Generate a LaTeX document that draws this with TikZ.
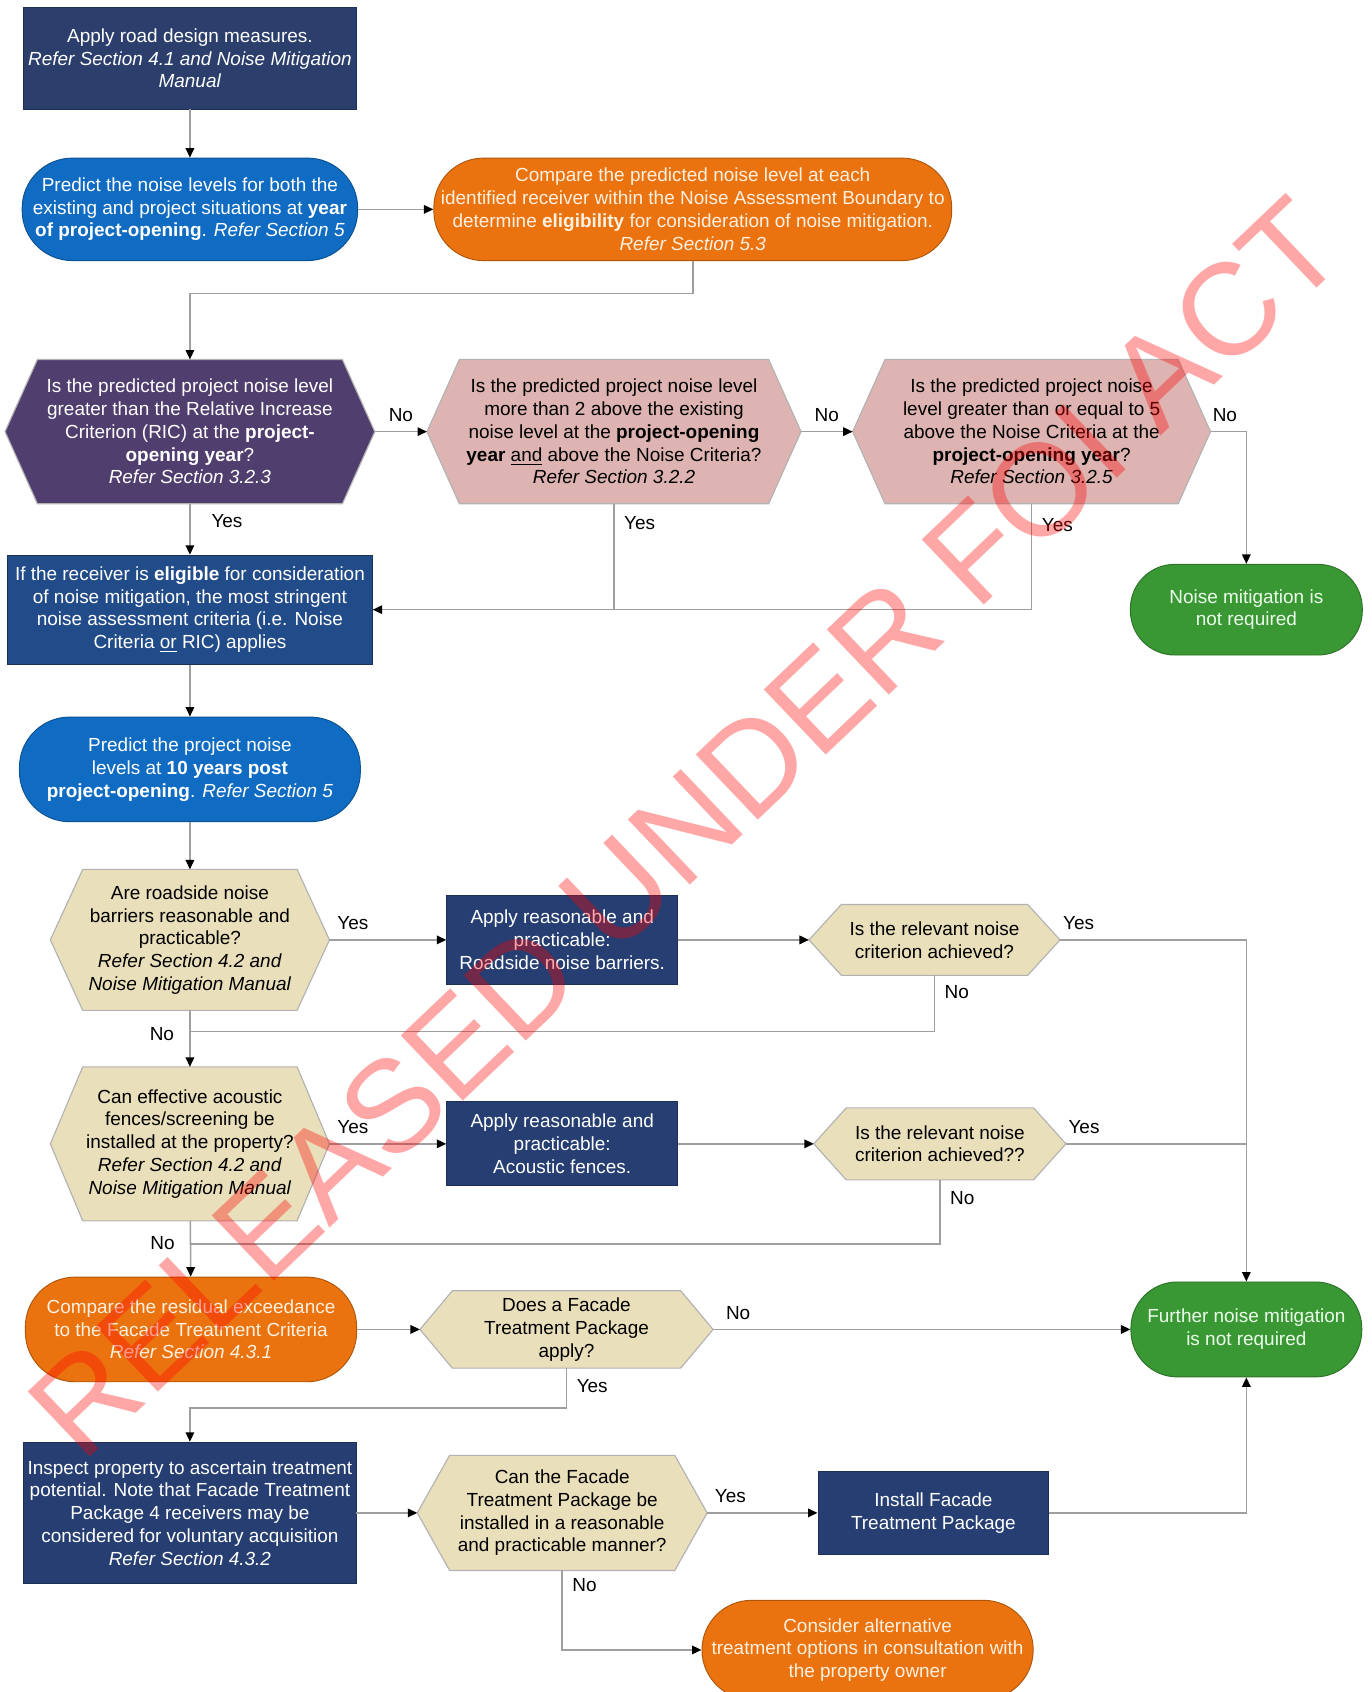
\documentclass[tikz,border=0pt]{standalone}
\usepackage{fontspec}
\setmainfont{Liberation Sans}
\usetikzlibrary{arrows.meta}
\usetikzlibrary{backgrounds}

\definecolor{topnavy}{HTML}{2B3E6C}
\definecolor{midnavy}{HTML}{224B8A}
\definecolor{boxnavy}{HTML}{263E71}
\definecolor{predblue}{HTML}{106CC2}
\definecolor{mitorange}{HTML}{EB730F}
\definecolor{ricpurple}{HTML}{503E6E}
\definecolor{critpink}{HTML}{DDB4B1}
\definecolor{qbeige}{HTML}{E9DFBA}
\definecolor{okgreen}{HTML}{3A9834}

\tikzset{
  txt/.style={align=center, font=\fontsize{10}{12}\selectfont, inner sep=2pt},
  navybox/.style={txt, rectangle, fill=boxnavy, draw=boxnavy!75!black, line width=0.5pt, text=white},
  bluestad/.style={txt, rectangle, rounded corners=0.93cm, fill=predblue, draw=predblue!75!black, line width=0.5pt, text=white},
  orangestad/.style={txt, rectangle, rounded corners=0.92cm, fill=mitorange, draw=mitorange!75!black, line width=0.5pt, text=white!88!orange},
  greenstad/.style={txt, rectangle, rounded corners=0.82cm, fill=okgreen, draw=okgreen!75!black, line width=0.5pt, text=white!92!green},
  hexnode/.style={txt, rectangle},
  hexedge/.style={draw=gray!60, line width=0.6pt},
  link/.style={draw=gray!75, line width=0.8pt},
  flow/.style={link, -{Triangle[length=5pt, width=4.5pt, color=black]}},
  lbl/.style={font=\fontsize{10}{12}\selectfont, inner sep=2pt, text=black},
  stamp/.style={font=\fontsize{69}{69}\selectfont, text=red, text opacity=0.35, inner sep=0pt}
}

\begin{document}
\begin{tikzpicture}[x=0.02cm, y=-0.02cm]
  \useasboundingbox (0, 0) rectangle (1271, 1568);

  \node [navybox, fill=topnavy, minimum width=6.16cm, minimum height=1.88cm] (roaddesign) at (176, 54)
    {Apply road design measures.\\ \textit{Refer Section 4.1 and Noise Mitigation}\\ \textit{Manual}};
  \node [bluestad, minimum width=6.22cm, minimum height=1.9cm] (predopen) at (176, 194)
    {Predict the noise levels for both the\\ existing and project situations at \textbf{year}\\ \textbf{of project-opening}. \textit{Refer Section 5}};
  \node [orangestad, minimum width=9.6cm, minimum height=1.9cm] (eligibility) at (642, 194)
    {Compare the predicted noise level at each\\ identified receiver within the Noise Assessment Boundary to\\ determine \textbf{eligibility} for consideration of noise mitigation.\\ \textit{Refer Section 5.3}};

  \node [hexnode, text=white, minimum width=6.84cm, minimum height=2.66cm] (ric) at (176, 400)
    {Is the predicted project noise level\\ greater than the Relative Increase\\ Criterion (RIC) at the \textbf{project-}\\ \textbf{opening year}?\\ \textit{Refer Section 3.2.3}};
  \node [hexnode, minimum width=6.92cm, minimum height=2.66cm] (twoabove) at (569, 400)
    {Is the predicted project noise level\\ more than 2 above the existing\\ noise level at the \textbf{project-opening}\\ \textbf{year} \underline{and} above the Noise Criteria?\\ \textit{Refer Section 3.2.2}};
  \node [hexnode, minimum width=6.62cm, minimum height=2.66cm] (fiveabove) at (956, 400)
    {Is the predicted project noise\\ level greater than or equal to 5\\ above the Noise Criteria at the\\ \textbf{project-opening year}?\\ \textit{Refer Section 3.2.5}};

  \node [navybox, fill=midnavy, minimum width=6.76cm, minimum height=2.02cm] (stringent) at (176, 565)
    {If the receiver is \textbf{eligible} for consideration\\ of noise mitigation, the most stringent\\ noise assessment criteria (i.e. Noise\\ Criteria \underline{or} RIC) applies};
  \node [greenstad, minimum width=4.3cm, minimum height=1.68cm] (notreq) at (1155, 565)
    {Noise mitigation is\\ not required};

  \node [bluestad, minimum width=6.32cm, minimum height=1.94cm] (predpost) at (176, 713)
    {Predict the project noise\\ levels at \textbf{10 years post}\\ \textbf{project-opening}. \textit{Refer Section 5}};

  \node [hexnode, minimum width=5.16cm, minimum height=2.6cm] (barriers) at (176, 871)
    {Are roadside noise\\ barriers reasonable and\\ practicable?\\ \textit{Refer Section 4.2 and}\\ \textit{Noise Mitigation Manual}};
  \node [navybox, minimum width=4.28cm, minimum height=1.64cm] (applybarriers) at (521, 871)
    {Apply reasonable and\\ practicable:\\ Roadside noise barriers.};
  \node [hexnode, minimum width=4.64cm, minimum height=1.3cm] (relevantA) at (866, 871)
    {Is the relevant noise\\ criterion achieved?};

  \node [hexnode, minimum width=5.16cm, minimum height=2.84cm] (fences) at (176, 1060)
    {Can effective acoustic\\ fences/screening be\\ installed at the property?\\ \textit{Refer Section 4.2 and}\\ \textit{Noise Mitigation Manual}};
  \node [navybox, minimum width=4.28cm, minimum height=1.56cm] (applyfences) at (521, 1060)
    {Apply reasonable and\\ practicable:\\ Acoustic fences.};
  \node [hexnode, minimum width=4.66cm, minimum height=1.32cm] (relevantB) at (871, 1060)
    {Is the relevant noise\\ criterion achieved??};

  \node [orangestad, minimum width=6.14cm, minimum height=1.94cm] (residual) at (177, 1232)
    {Compare the residual exceedance\\ to the Facade Treatment Criteria\\ \textit{Refer Section 4.3.1}};
  \node [hexnode, minimum width=5.42cm, minimum height=1.42cm] (facadeq) at (525, 1232)
    {Does a Facade\\ Treatment Package\\ apply?};
  \node [greenstad, rounded corners=0.86cm, minimum width=4.28cm, minimum height=1.76cm] (further) at (1155, 1232)
    {Further noise mitigation\\ is not required};

  \node [navybox, minimum width=6.14cm, minimum height=2.62cm] (inspect) at (176, 1402)
    {Inspect property to ascertain treatment\\ potential. Note that Facade Treatment\\ Package 4 receivers may be\\ considered for voluntary acquisition\\ \textit{Refer Section 4.3.2}};
  \node [hexnode, minimum width=5.36cm, minimum height=2.12cm] (installq) at (521, 1402)
    {Can the Facade\\ Treatment Package be\\ installed in a reasonable\\ and practicable manner?};
  \node [navybox, minimum width=4.28cm, minimum height=1.54cm] (install) at (865, 1402)
    {Install Facade\\ Treatment Package};
  \node [orangestad, minimum width=6.14cm, minimum height=1.84cm] (alternative) at (804, 1529)
    {Consider alternative\\ treatment options in consultation with\\ the property owner};

  \coordinate (joinA) at (176, 956);
  \coordinate (joinB) at (176, 1153);
  \coordinate (joinC) at (176, 1305);

  \begin{scope}[on background layer]
    \foreach \hexname/\hexfill in {ric/ricpurple, twoabove/critpink, fiveabove/critpink,
        barriers/qbeige, relevantA/qbeige, fences/qbeige, relevantB/qbeige, facadeq/qbeige, installq/qbeige}
      \filldraw [hexedge, fill=\hexfill] (\hexname.west) -- ([xshift=0.6cm] \hexname.north west)
        -- ([xshift=-0.6cm] \hexname.north east) -- (\hexname.east)
        -- ([xshift=-0.6cm] \hexname.south east) -- ([xshift=0.6cm] \hexname.south west) -- cycle;
  \end{scope}

  \draw [flow] (roaddesign) -- (predopen);
  \draw [flow] (predopen) -- (eligibility);
  \draw [flow] (eligibility.south) -- ++(0, 30) -| (ric.north);

  \draw [flow] (ric) -- node [lbl, above=3pt] {No} (twoabove);
  \draw [flow] (twoabove) -- node [lbl, above=3pt] {No} (fiveabove);
  \draw [flow] (fiveabove.east) -| node [lbl, pos=0.2, above=3pt] {No} (notreq.north);

  \draw [flow] (ric.south) -- node [lbl, pos=0.33, right=9pt] {Yes} (stringent.north);
  \draw [flow] (twoabove.south) |- node [lbl, pos=0.09, right=3pt] {Yes} (stringent.east);
  \draw [link] (fiveabove.south) |- node [lbl, pos=0.1, right=3pt] {Yes} (twoabove.south |- stringent.east);

  \draw [flow] (stringent) -- (predpost);
  \draw [flow] (predpost) -- (barriers);

  \draw [flow] (barriers) -- node [lbl, pos=0.2, above=3pt] {Yes} (applybarriers);
  \draw [flow] (applybarriers) -- (relevantA);
  \draw [flow] (relevantA.east) -| node [lbl, pos=0.05, above=3pt] {Yes} (further.north);
  \draw [link] (relevantA.south) |- node [lbl, pos=0.15, right=3pt] {No} (joinA);
  \draw [flow] (barriers) -- node [lbl, pos=0.42, left=6pt] {No} (fences);

  \draw [flow] (fences) -- node [lbl, pos=0.2, above=3pt] {Yes} (applyfences);
  \draw [flow] (applyfences) -- (relevantB);
  \draw [link] (relevantB.east) -- node [lbl, pos=0.1, above=3pt] {Yes} (further.north |- relevantB.east);
  \draw [link] (relevantB.south) |- node [lbl, pos=0.14, right=3pt] {No} (joinB);
  \draw [flow] (fences) -- node [lbl, pos=0.4, left=6pt] {No} (residual);

  \draw [flow] (residual) -- (facadeq);
  \draw [flow] (facadeq) -- node [lbl, pos=0.06, above=3pt] {No} (further);
  \draw [flow] (facadeq.south) |- node [lbl, pos=0.23, right=3pt] {Yes} (joinC) -- (inspect.north);

  \draw [flow] (inspect) -- (installq);
  \draw [flow] (installq) -- node [lbl, pos=0.21, above=3pt] {Yes} (install);
  \draw [flow] (install.east) -| (further.south);
  \draw [flow] (installq.south) |- node [lbl, pos=0.09, right=3pt] {No} (alternative.west);

  \node [stamp, rotate=43.6] (foiact) at (635, 767) {RELEASED UNDER FOI ACT};
\end{tikzpicture}
\end{document}
